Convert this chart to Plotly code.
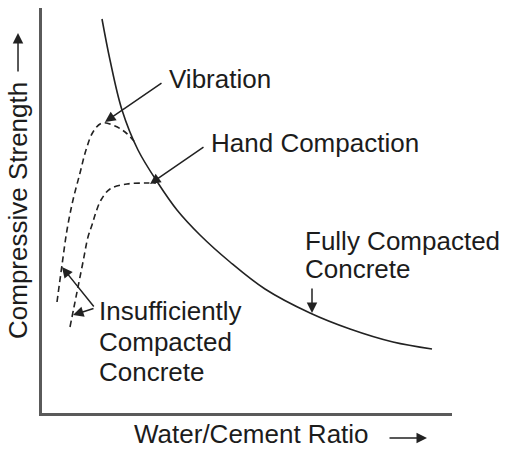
import plotly.graph_objects as go

# Schematic curves (relative units: x = water/cement ratio, y = compressive strength)
full_x = [60, 68, 80, 96, 116, 135, 158, 188, 223, 268, 308, 351, 390]
full_y = [394, 353, 303, 263, 230, 203, 178, 151, 124, 100, 84, 71, 64]

vib_x = [15, 20, 25, 31, 38, 44, 51, 60, 73, 83, 92]
vib_y = [111, 148, 183, 213, 240, 263, 281, 290, 287, 281, 272]

hand_x = [28, 32, 36, 41, 46, 50, 54, 59, 68, 85, 105, 114]
hand_y = [86, 106, 126, 151, 176, 188, 201, 213, 224, 229, 230, 230]

x_title = "Water/Cement Ratio"
y_title = "Compressive Strength"
labels = ["Vibration", "Hand Compaction", "Insufficiently", "Compacted", "Concrete",
          "Fully Compacted", "Concrete"]

INK = "#1c1c1c"
FONT = dict(family="Liberation Sans, Arial, sans-serif", size=26, color=INK)

fig = go.Figure()
fig.add_trace(go.Scatter(x=full_x, y=full_y, mode="lines",
                         line=dict(color="#222", width=1.6, shape="spline", smoothing=1),
                         hoverinfo="skip"))
fig.add_trace(go.Scatter(x=vib_x, y=vib_y, mode="lines",
                         line=dict(color="#222", width=1.6, dash="6px,4px", shape="spline"),
                         hoverinfo="skip"))
fig.add_trace(go.Scatter(x=hand_x, y=hand_y, mode="lines",
                         line=dict(color="#222", width=1.6, dash="6px,4px", shape="spline"),
                         hoverinfo="skip"))

ann = []
def label(x, y, t):
    ann.append(dict(x=x, y=y, xref="x", yref="y", text=t, showarrow=False,
                    xanchor="left", yanchor="middle", font=FONT, borderpad=0))

def arrow(hx, hy, tx, ty):
    ann.append(dict(x=hx, y=hy, ax=tx, ay=ty, xref="x", yref="y", axref="x", ayref="y",
                    text="", showarrow=True, arrowhead=2, arrowsize=1.4,
                    arrowwidth=1.5, arrowcolor="#222"))

label(126, 334, labels[0])
label(168, 270, labels[1])
label(56, 102, labels[2])
label(56, 71, labels[3])
label(56, 41, labels[4])
label(262, 172, labels[5])
label(262, 144, labels[6])

arrow(63, 291, 121, 331)
arrow(108, 229, 163, 267)
arrow(20, 146, 53, 105)
arrow(31, 98, 53, 105)
arrow(270, 100, 270, 126)

# axis titles with arrows (paper coordinates)
ann.append(dict(x=0.51, y=-0.052, xref="paper", yref="paper", text=x_title,
                showarrow=False, xanchor="center", yanchor="middle", font=FONT,
                borderpad=0))
ann.append(dict(x=0.939, y=-0.0617, xref="paper", yref="paper", ax=-39, ay=0,
                text="", showarrow=True, arrowhead=2, arrowsize=1.4, arrowwidth=1.5,
                arrowcolor="#222"))
ann.append(dict(x=-0.0585, y=0.4988, xref="paper", yref="paper", text=y_title,
                textangle=-90, showarrow=False, xanchor="center", yanchor="middle",
                font=FONT, borderpad=0))
ann.append(dict(x=-0.0585, y=0.938, xref="paper", yref="paper", ax=0, ay=40,
                text="", showarrow=True, arrowhead=2, arrowsize=1.4, arrowwidth=1.5,
                arrowcolor="#222"))

fig.update_layout(
    width=506, height=450,
    margin=dict(l=42, r=54, t=8, b=37),
    paper_bgcolor="white", plot_bgcolor="white",
    showlegend=False,
    annotations=ann,
    xaxis=dict(range=[0, 410], showgrid=False, zeroline=False, showticklabels=False,
               ticks="", showline=True, linecolor="#5a5a5a", linewidth=3, fixedrange=True),
    yaxis=dict(range=[0, 405], showgrid=False, zeroline=False, showticklabels=False,
               ticks="", showline=True, linecolor="#5a5a5a", linewidth=3, fixedrange=True),
)

fig.write_html("out.html", post_script="document.body.style.margin='0';",
               config={"displayModeBar": False})
